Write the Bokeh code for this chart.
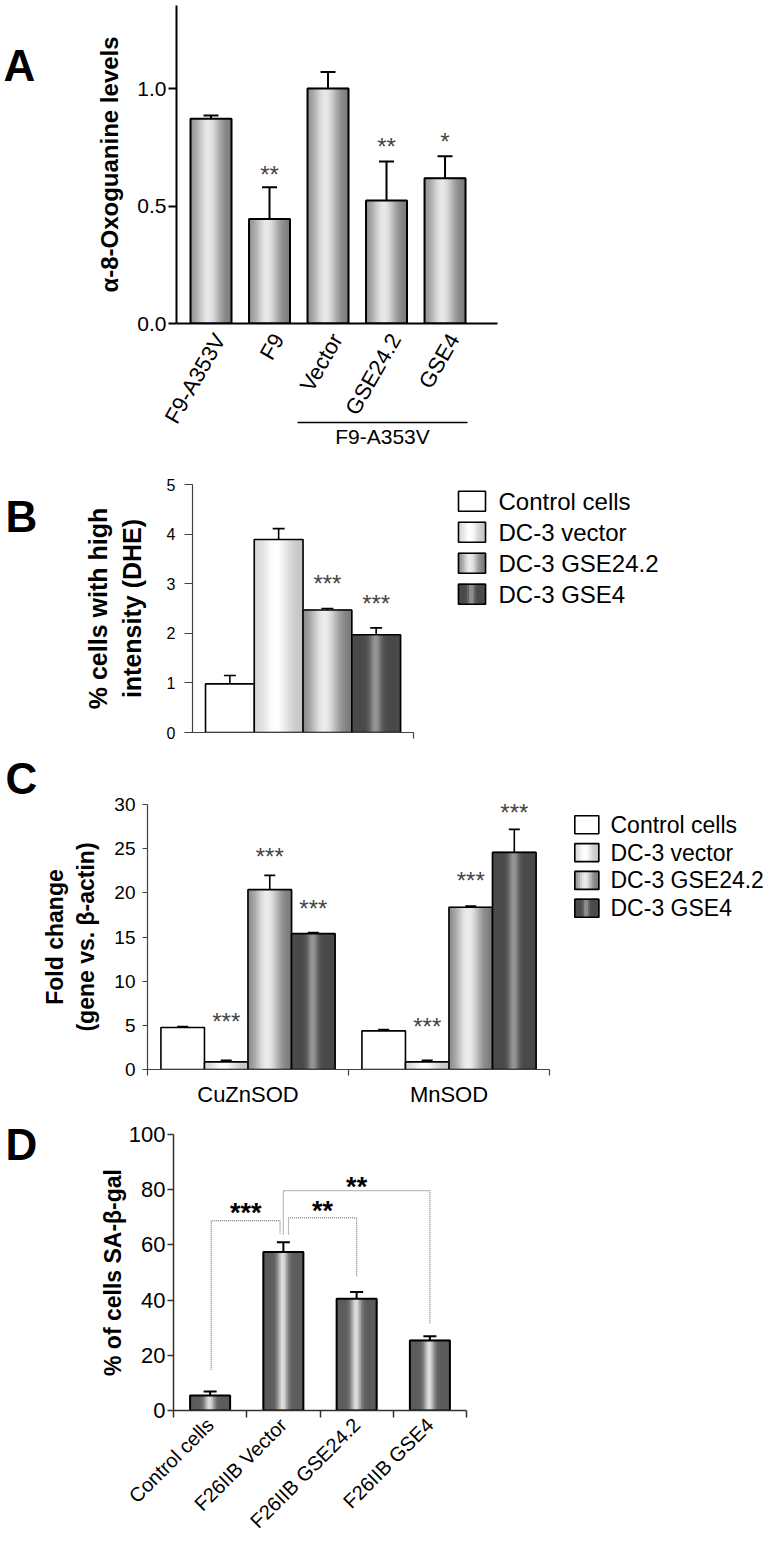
import numpy as np
from bokeh.plotting import figure
from bokeh.models import (FixedTicker, Range1d, Whisker, TeeHead,
                          ColumnDataSource, NumeralTickFormatter)
from bokeh.core.properties import value
from bokeh.embed import file_html
from bokeh.resources import INLINE

FONT = "Liberation Sans"
PAGE_W = 773
M = 0  # Bokeh's standalone page template sets the body margin to 0

# ---------------- data ----------------
a_categories = ["F9-A353V", "F9", "Vector", "GSE24.2", "GSE4"]
a_values = [0.871, 0.445, 1.0, 0.523, 0.618]
a_sem = [0.014, 0.135, 0.07, 0.166, 0.094]
a_stars = ["", "**", "", "**", "*"]
a_star_y = [0.0, 0.66, 0.0, 0.78, 0.80]
a_yticks = [0.0, 0.5, 1.0]
a_group = "F9-A353V"

bc_series = ["Control cells", "DC-3 vector", "DC-3 GSE24.2", "DC-3 GSE4"]

b_values = [0.98, 3.89, 2.47, 1.97]
b_sem = [0.17, 0.22, 0.03, 0.14]
b_stars = ["", "", "***", "***"]
b_star_y = [0.0, 0.0, 3.12, 2.72]
b_yticks = [0, 1, 2, 3, 4, 5]

c_genes = ["CuZnSOD", "MnSOD"]
c_control = [4.75, 4.37]
c_vector = [0.86, 0.86]
c_gse242 = [20.36, 18.36]
c_gse4 = [15.38, 24.58]
c_control_sem = [0.12, 0.15]
c_vector_sem = [0.19, 0.19]
c_gse242_sem = [1.62, 0.14]
c_gse4_sem = [0.12, 2.60]
c_stars = ["", "***", "***", "***"]
c_star_y = [[0.0, 0.0], [6.1, 5.5], [24.8, 22.1], [18.85, 29.77]]
c_yticks = [0, 5, 10, 15, 20, 25, 30]

d_categories = ["Control cells", "F26IIB Vector", "F26IIB GSE24.2", "F26IIB GSE4"]
d_values = [5.4, 57.4, 40.5, 25.4]
d_sem = [1.5, 3.6, 2.4, 1.5]
d_yticks = [0, 20, 40, 60, 80, 100]
d_bracket_text = ["***", "**", "**"]
d_bracket_from = [0, 1, 1]
d_bracket_to = [1, 2, 3]
d_bracket_from_shift = [0.015, 0.07, 0.0]
d_bracket_to_shift = [-0.045, 0.0, 0.0]
d_bracket_top = [68.8, 69.8, 79.7]
d_bracket_from_foot = [14.8, 63.8, 63.8]
d_bracket_to_foot = [63.8, 48.3, 31.4]
d_bracket_text_y = [74.0, 74.6, 83.3]

# ---------------- styles ----------------
# (left edge grey, centre grey, right edge grey, highlight position, highlight width)
A_STYLE = (135, 232, 120, 0.45, 0.30)
D_STYLE = (92, 222, 92, 0.50, 0.13)
BC_STYLES = [(255, 255, 255, 0.5, 0.3),
             (212, 255, 196, 0.45, 0.28),
             (125, 236, 118, 0.45, 0.30),
             (74, 150, 74, 0.50, 0.12)]
STAR_GREY = "#454545"


def shade(style, n):
    el, ce, er, c, w = style
    out = []
    for i in range(n):
        t = (i + 0.5) / n
        edge = el + (er - el) * t
        g = np.exp(-((t - c) / w) ** 2)
        v = int(round(edge + (ce - edge) * g))
        v = max(0, min(255, v))
        out.append("#%02x%02x%02x" % (v, v, v))
    return out


def shaded_boxes(p, lefts, rights, bottoms, tops, style, outline_w, level="glyph", n=24):
    cols = shade(style, n)
    L, R, B, T, C = [], [], [], [], []
    for l, r, b, t in zip(lefts, rights, bottoms, tops):
        for i in range(n):
            L.append(l + (r - l) * i / n)
            R.append(l + (r - l) * (i + 1) / n)
            B.append(b)
            T.append(t)
            C.append(cols[i])
    p.quad(left=L, right=R, bottom=B, top=T, fill_color=C, line_color=C,
           line_width=1.3, level=level)
    p.quad(left=list(lefts), right=list(rights), bottom=list(bottoms), top=list(tops),
           fill_color=None, line_color="black", line_width=outline_w, level=level)


def whiskers(p, xs, vals, sems, cap, lw, color="black"):
    src = ColumnDataSource(dict(x=list(xs), lo=list(vals),
                                hi=[v + e for v, e in zip(vals, sems)]))
    w = Whisker(source=src, base="x", lower="lo", upper="hi",
                line_color=color, line_width=lw,
                upper_head=TeeHead(size=cap, line_color=color, line_width=lw),
                lower_head=None, level="annotation")
    p.add_layout(w)


def txt(p, x, y, s, size, color="black", bold=False, align="center",
        baseline="middle", y_off=0):
    p.text(x=[x], y=[y], text=[s], text_font=value(FONT),
           text_font_size=f"{size}px",
           text_font_style="bold" if bold else "normal",
           text_color=color, text_align=align, text_baseline=baseline,
           y_offset=y_off, level="overlay")


def star(p, x, y, s, size, color, bold=False):
    txt(p, x, y, s, size, color=color, bold=bold, y_off=0.25 * size)


def panel(fig_top, fig_h, L, R, T, B, xr, yr):
    p = figure(width=PAGE_W, height=fig_h,
               x_range=Range1d(*xr), y_range=Range1d(*yr),
               output_backend="svg", toolbar_location=None,
               min_border_left=L - M, min_border_right=PAGE_W - (R - M),
               min_border_top=T - fig_top, min_border_bottom=fig_top + fig_h - B)
    p.grid.visible = False
    p.outline_line_color = None

    def X(px):
        return xr[0] + (px - L) / (R - L) * (xr[1] - xr[0])

    def Y(py):
        return yr[0] + (B - py) / (B - T) * (yr[1] - yr[0])
    return p, X, Y


def style_axis(ax, color, lw, font_px, tick_out, standoff):
    ax.axis_line_color = color
    ax.axis_line_width = lw
    ax.major_tick_line_color = color
    ax.major_tick_line_width = lw
    ax.major_tick_in = 0
    ax.major_tick_out = tick_out
    ax.minor_tick_line_color = None
    ax.major_label_text_font = FONT
    ax.major_label_text_font_size = f"{font_px}px"
    ax.major_label_text_color = "black"
    ax.major_label_standoff = standoff
    ax.axis_label_text_font = FONT
    ax.axis_label_text_font_style = "bold"
    ax.axis_label_text_color = "black"


# ================= Panel A =================
pA, XA, YA = panel(0, 470, 176, 497, 5, 323, (-0.590, 4.897), (0, 318 / 235))
xa = list(range(len(a_categories)))
wa = 0.70
shaded_boxes(pA, [x - wa / 2 for x in xa], [x + wa / 2 for x in xa],
             [0] * len(xa), a_values, A_STYLE, 2)
whiskers(pA, xa, a_values, a_sem, 15, 2)
for x, s, y in zip(xa, a_stars, a_star_y):
    if s:
        star(pA, x, y, s, 24, STAR_GREY)
style_axis(pA.yaxis[0], "black", 2, 21, 8, 2)
pA.yaxis.ticker = FixedTicker(ticks=a_yticks)
pA.yaxis.formatter = NumeralTickFormatter(format="0.0")
pA.yaxis.axis_label = "α-8-Oxoguanine levels"
pA.yaxis.axis_label_text_font_size = "24px"
pA.yaxis.axis_label_standoff = 11
style_axis(pA.xaxis[0], "black", 2, 22, 0, 12)
# labels hang slightly to the right of each bar, as in the original figure
a_label_pos = [round(x + 0.15, 3) for x in xa]
pA.xaxis.ticker = FixedTicker(ticks=a_label_pos)
pA.xaxis.major_label_overrides = {x: c for x, c in zip(a_label_pos, a_categories)}
pA.xaxis.major_label_orientation = 1.05
pA.line(x=[XA(297), XA(467)], y=[YA(422), YA(422)], line_color="black",
        line_width=1.5, level="overlay")
txt(pA, XA(382), YA(436), a_group, 21)
txt(pA, XA(3), YA(65), "A", 44, bold=True, align="left", baseline="alphabetic")

# ================= Panel B =================
pB, XB, YB = panel(470, 272, 192, 413, 484, 732, (-0.767, 3.766), (0, 5))
xb = list(range(len(bc_series)))
for i, st in enumerate(BC_STYLES):
    shaded_boxes(pB, [xb[i] - 0.5], [xb[i] + 0.5], [0], [b_values[i]], st, 1.6)
whiskers(pB, xb, b_values, b_sem, 12, 1.6)
for x, s, y in zip(xb, b_stars, b_star_y):
    if s:
        star(pB, x, y, s, 24, STAR_GREY)
style_axis(pB.yaxis[0], "#404040", 1.2, 16, 8, 9)
pB.yaxis.ticker = FixedTicker(ticks=b_yticks)
pB.yaxis.axis_label = "% cells with high\nintensity (DHE)"
pB.yaxis.axis_label_text_font_size = "25px"
pB.yaxis.axis_label_standoff = 18
style_axis(pB.xaxis[0], "#404040", 1.2, 0, 6, 0)
pB.xaxis.ticker = FixedTicker(ticks=[3.766 - 1e-6])
pB.xaxis.major_label_overrides = {3.766 - 1e-6: ""}
for i, name in enumerate(bc_series):
    ry = 500.7 + 31.0 * i
    shaded_boxes(pB, [XB(458)], [XB(485)], [YB(ry + 10)], [YB(ry - 10)],
                 BC_STYLES[i], 1.6, level="overlay", n=12)
    txt(pB, XB(498), YB(ry), name, 24, align="left")
txt(pB, XB(5), YB(516), "B", 44, bold=True, align="left", baseline="alphabetic")

# ================= Panel C =================
pC, XC, YC = panel(742, 368, 147, 549, 804, 1069, (0, 2), (0, 30))
gx = [0.5 + g for g in range(len(c_genes))]
bw = 0.2166
c_vals = [c_control, c_vector, c_gse242, c_gse4]
c_sems = [c_control_sem, c_vector_sem, c_gse242_sem, c_gse4_sem]
for i, st in enumerate(BC_STYLES):
    xs = [g + (i - 1.5) * bw for g in gx]
    shaded_boxes(pC, [x - bw / 2 for x in xs], [x + bw / 2 for x in xs],
                 [0] * len(xs), c_vals[i], st, 1.6)
    whiskers(pC, xs, c_vals[i], c_sems[i], 11, 1.6)
    if c_stars[i]:
        for x, y in zip(xs, c_star_y[i]):
            star(pC, x, y, c_stars[i], 24, STAR_GREY)
style_axis(pC.yaxis[0], "#404040", 1.2, 19, 5, 7)
pC.yaxis.ticker = FixedTicker(ticks=c_yticks)
pC.yaxis.axis_label = "Fold change\n(gene vs. β-actin)"
pC.yaxis.axis_label_text_font_size = "23px"
pC.yaxis.axis_label_standoff = 12
style_axis(pC.xaxis[0], "#404040", 1.2, 22, 0, 6)
pC.xaxis.ticker = FixedTicker(ticks=gx, minor_ticks=[0, 1, 2])
pC.xaxis.minor_tick_line_color = "#404040"
pC.xaxis.minor_tick_line_width = 1.2
pC.xaxis.minor_tick_in = 0
pC.xaxis.minor_tick_out = 6
pC.xaxis.major_label_overrides = {x: g for x, g in zip(gx, c_genes)}
for i, name in enumerate(bc_series):
    ry = 824.3 + 27.8 * i
    shaded_boxes(pC, [XC(574.3)], [XC(598.3)], [YC(ry + 9)], [YC(ry - 9)],
                 BC_STYLES[i], 1.6, level="overlay", n=12)
    txt(pC, XC(610), YC(ry), name, 23, align="left")
txt(pC, XC(5), YC(778), "C", 44, bold=True, align="left", baseline="alphabetic")

# ================= Panel D =================
pD, XD, YD = panel(1110, 435, 173, 466, 1134, 1410, (0, 4), (0, 100))
xd = [0.5 + i for i in range(len(d_categories))]
wd = 0.546
shaded_boxes(pD, [x - wd / 2 for x in xd], [x + wd / 2 for x in xd],
             [0] * len(xd), d_values, D_STYLE, 2)
whiskers(pD, xd, d_values, d_sem, 13, 2)
bxs, bys = [], []
for k in range(len(d_bracket_text)):
    x0 = xd[d_bracket_from[k]] + d_bracket_from_shift[k]
    x1 = xd[d_bracket_to[k]] + d_bracket_to_shift[k]
    bxs.append([x0, x0, x1, x1])
    bys.append([d_bracket_from_foot[k], d_bracket_top[k], d_bracket_top[k],
                d_bracket_to_foot[k]])
    star(pD, (x0 + x1) / 2, d_bracket_text_y[k], d_bracket_text[k], 27, "black", bold=True)
pD.multi_line(xs=bxs, ys=bys, line_color="#7a7a7a", line_width=1.2, line_dash="1 1")
style_axis(pD.yaxis[0], "#303030", 1.5, 22, 6, 2)
pD.yaxis.ticker = FixedTicker(ticks=d_yticks)
pD.yaxis.axis_label = "% of cells SA-β-gal"
pD.yaxis.axis_label_text_font_size = "23px"
pD.yaxis.axis_label_standoff = 0
style_axis(pD.xaxis[0], "#303030", 1.5, 20, 0, 4)
pD.xaxis.ticker = FixedTicker(ticks=xd, minor_ticks=[0, 1, 2, 3, 4])
pD.xaxis.minor_tick_line_color = "#303030"
pD.xaxis.minor_tick_line_width = 1.5
pD.xaxis.minor_tick_in = 0
pD.xaxis.minor_tick_out = 7
pD.xaxis.major_label_overrides = {x: c for x, c in zip(xd, d_categories)}
pD.xaxis.major_label_orientation = np.pi / 4
txt(pD, XD(5), YD(1144), "D", 44, bold=True, align="left", baseline="alphabetic")

# separate roots so that Bokeh does not align the four plot frames
open("out.html", "w").write(file_html([pA, pB, pC, pD], INLINE))
